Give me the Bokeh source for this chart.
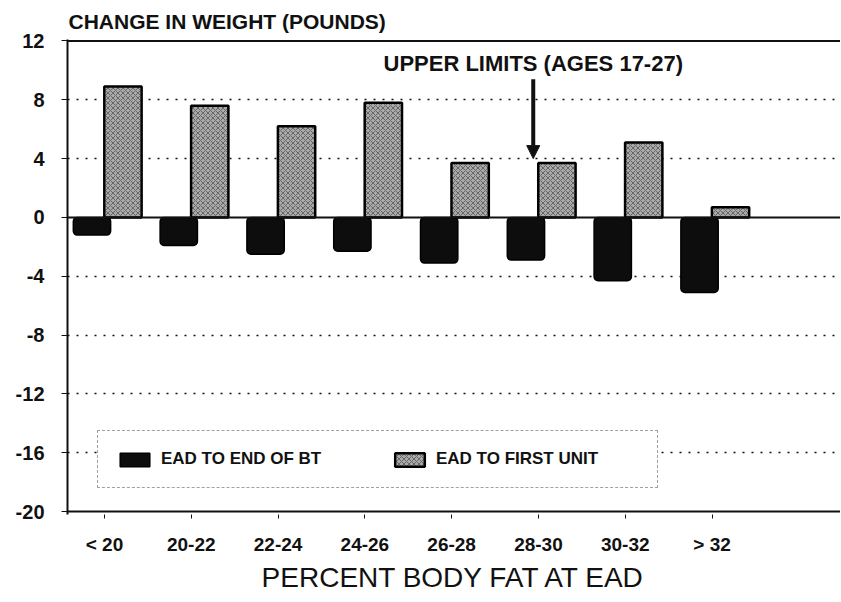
from bokeh.plotting import figure
from bokeh.models import (ColumnDataSource, FixedTicker, Span, Arrow, NormalHead,
                          Label, Legend, LegendItem, Range1d)
from bokeh.transform import dodge
from bokeh.embed import file_html
from bokeh.resources import INLINE

# ---- data ----
categories = ["< 20", "20-22", "22-24", "24-26", "26-28", "28-30", "30-32", "> 32"]
ead_to_end_of_bt = [-1.2, -1.9, -2.5, -2.3, -3.1, -2.9, -4.3, -5.1]
ead_to_first_unit = [8.9, 7.6, 6.2, 7.8, 3.7, 3.7, 5.1, 0.7]
y_ticks = [12, 8, 4, 0, -4, -8, -12, -16, -20]
grid_ticks = [8, 4, -4, -8, -12, -16]
series_labels = ["EAD TO END OF BT", "EAD TO FIRST UNIT"]
limit_category = "28-30"
limit_text = "UPPER LIMITS (AGES 17-27)"
arrow_from, arrow_to = 9.4, 4.0
x_title = "PERCENT BODY FAT AT EAD"
y_title = "CHANGE IN WEIGHT (POUNDS)"

FONT = "Liberation Sans"
INK = "#111111"

src = ColumnDataSource(dict(
    x=list(range(len(categories))),
    bt=ead_to_end_of_bt,
    fu=ead_to_first_unit,
))

p = figure(width=840, height=600, output_backend="svg", toolbar_location=None,
           x_range=Range1d(-0.426, 8.48), y_range=Range1d(-20.2, 12.1),
           min_border_left=67, min_border_right=0, min_border_top=39,
           min_border_bottom=86)
p.outline_line_color = None
p.background_fill_color = "white"
p.border_fill_color = "white"

bar_w = 0.43
r_bt = p.vbar(x=dodge("x", -0.144, range=p.x_range), top="bt", bottom=0, width=bar_w,
              source=src, fill_color="#0d0d0d", line_color="black", line_width=1.5,
              border_radius=4)
r_fu = p.vbar(x=dodge("x", 0.213, range=p.x_range), top="fu", bottom=0, width=bar_w,
              source=src, fill_color="#a9a9a9", line_color="black", line_width=2.5,
              hatch_pattern="x", hatch_scale=5, hatch_color="#3a3a3a",
              hatch_alpha=0.6, hatch_weight=1)

# axes
xa = p.xaxis[0]
xa.ticker = FixedTicker(ticks=list(range(len(categories))))
xa.major_label_overrides = {i: c for i, c in enumerate(categories)}
xa.axis_label = x_title
xa.axis_label_text_font = FONT
xa.axis_label_text_font_size = "28px"
xa.axis_label_text_font_style = "normal"
xa.axis_label_text_color = INK
xa.axis_label_standoff = 4
xa.major_label_text_font = FONT
xa.major_label_text_font_size = "19px"
xa.major_label_text_font_style = "bold"
xa.major_label_text_color = INK
xa.major_label_standoff = 15
xa.major_tick_out = 4
xa.major_tick_in = 0
xa.minor_tick_out = 0
xa.axis_line_color = None
xa.major_tick_line_color = INK

ya = p.yaxis[0]
ya.ticker = FixedTicker(ticks=y_ticks)
ya.major_label_overrides = {v: str(v) for v in y_ticks}
ya.major_label_text_font = FONT
ya.major_label_text_font_size = "20px"
ya.major_label_text_font_style = "bold"
ya.major_label_text_color = INK
ya.major_label_standoff = 17
ya.major_tick_out = 6
ya.major_tick_in = 0
ya.minor_tick_out = 0
ya.minor_tick_in = 0
ya.axis_line_color = INK
ya.axis_line_width = 2
ya.major_tick_line_color = INK

p.xgrid.grid_line_color = None
p.ygrid.ticker = FixedTicker(ticks=grid_ticks)
p.ygrid.grid_line_color = INK
p.ygrid.grid_line_dash = "2 7"
p.ygrid.grid_line_width = 1.5

# frame lines at top, zero and bottom
for v in (y_ticks[0], 0, y_ticks[-1]):
    p.add_layout(Span(location=v, dimension="width", line_color=INK, line_width=2))

# title (y quantity)
p.title.text = y_title
p.title.text_font = FONT
p.title.text_font_size = "21px"
p.title.text_font_style = "bold"
p.title.text_color = INK
p.title.align = "left"
p.title.offset = 1
p.title.standoff = 14

# upper limit annotation
lx = categories.index(limit_category) - 0.06
p.add_layout(Arrow(end=NormalHead(size=13, fill_color=INK, line_color=INK),
                   x_start=lx, y_start=arrow_from, x_end=lx, y_end=arrow_to,
                   line_color=INK, line_width=4))
p.add_layout(Label(x=lx, y=10.5, text=limit_text, text_align="center",
                   text_baseline="middle", text_font=FONT, text_font_size="22px",
                   text_font_style="bold", text_color=INK))

# legend
legend = Legend(items=[LegendItem(label=series_labels[0], renderers=[r_bt]),
                       LegendItem(label=series_labels[1], renderers=[r_fu])],
                location=(30, 26), orientation="horizontal",
                glyph_width=37, glyph_height=17, label_standoff=8, spacing=27,
                padding=18, margin=0, label_width=203, label_height=20,
                label_text_font=FONT, label_text_font_size="17px",
                label_text_font_style="bold", label_text_color=INK,
                border_line_color="#444444", border_line_width=1.5,
                border_line_dash="8 2", background_fill_color="white",
                background_fill_alpha=1)
p.add_layout(legend, "center")

open("out.html", "w").write(file_html(p, INLINE))
